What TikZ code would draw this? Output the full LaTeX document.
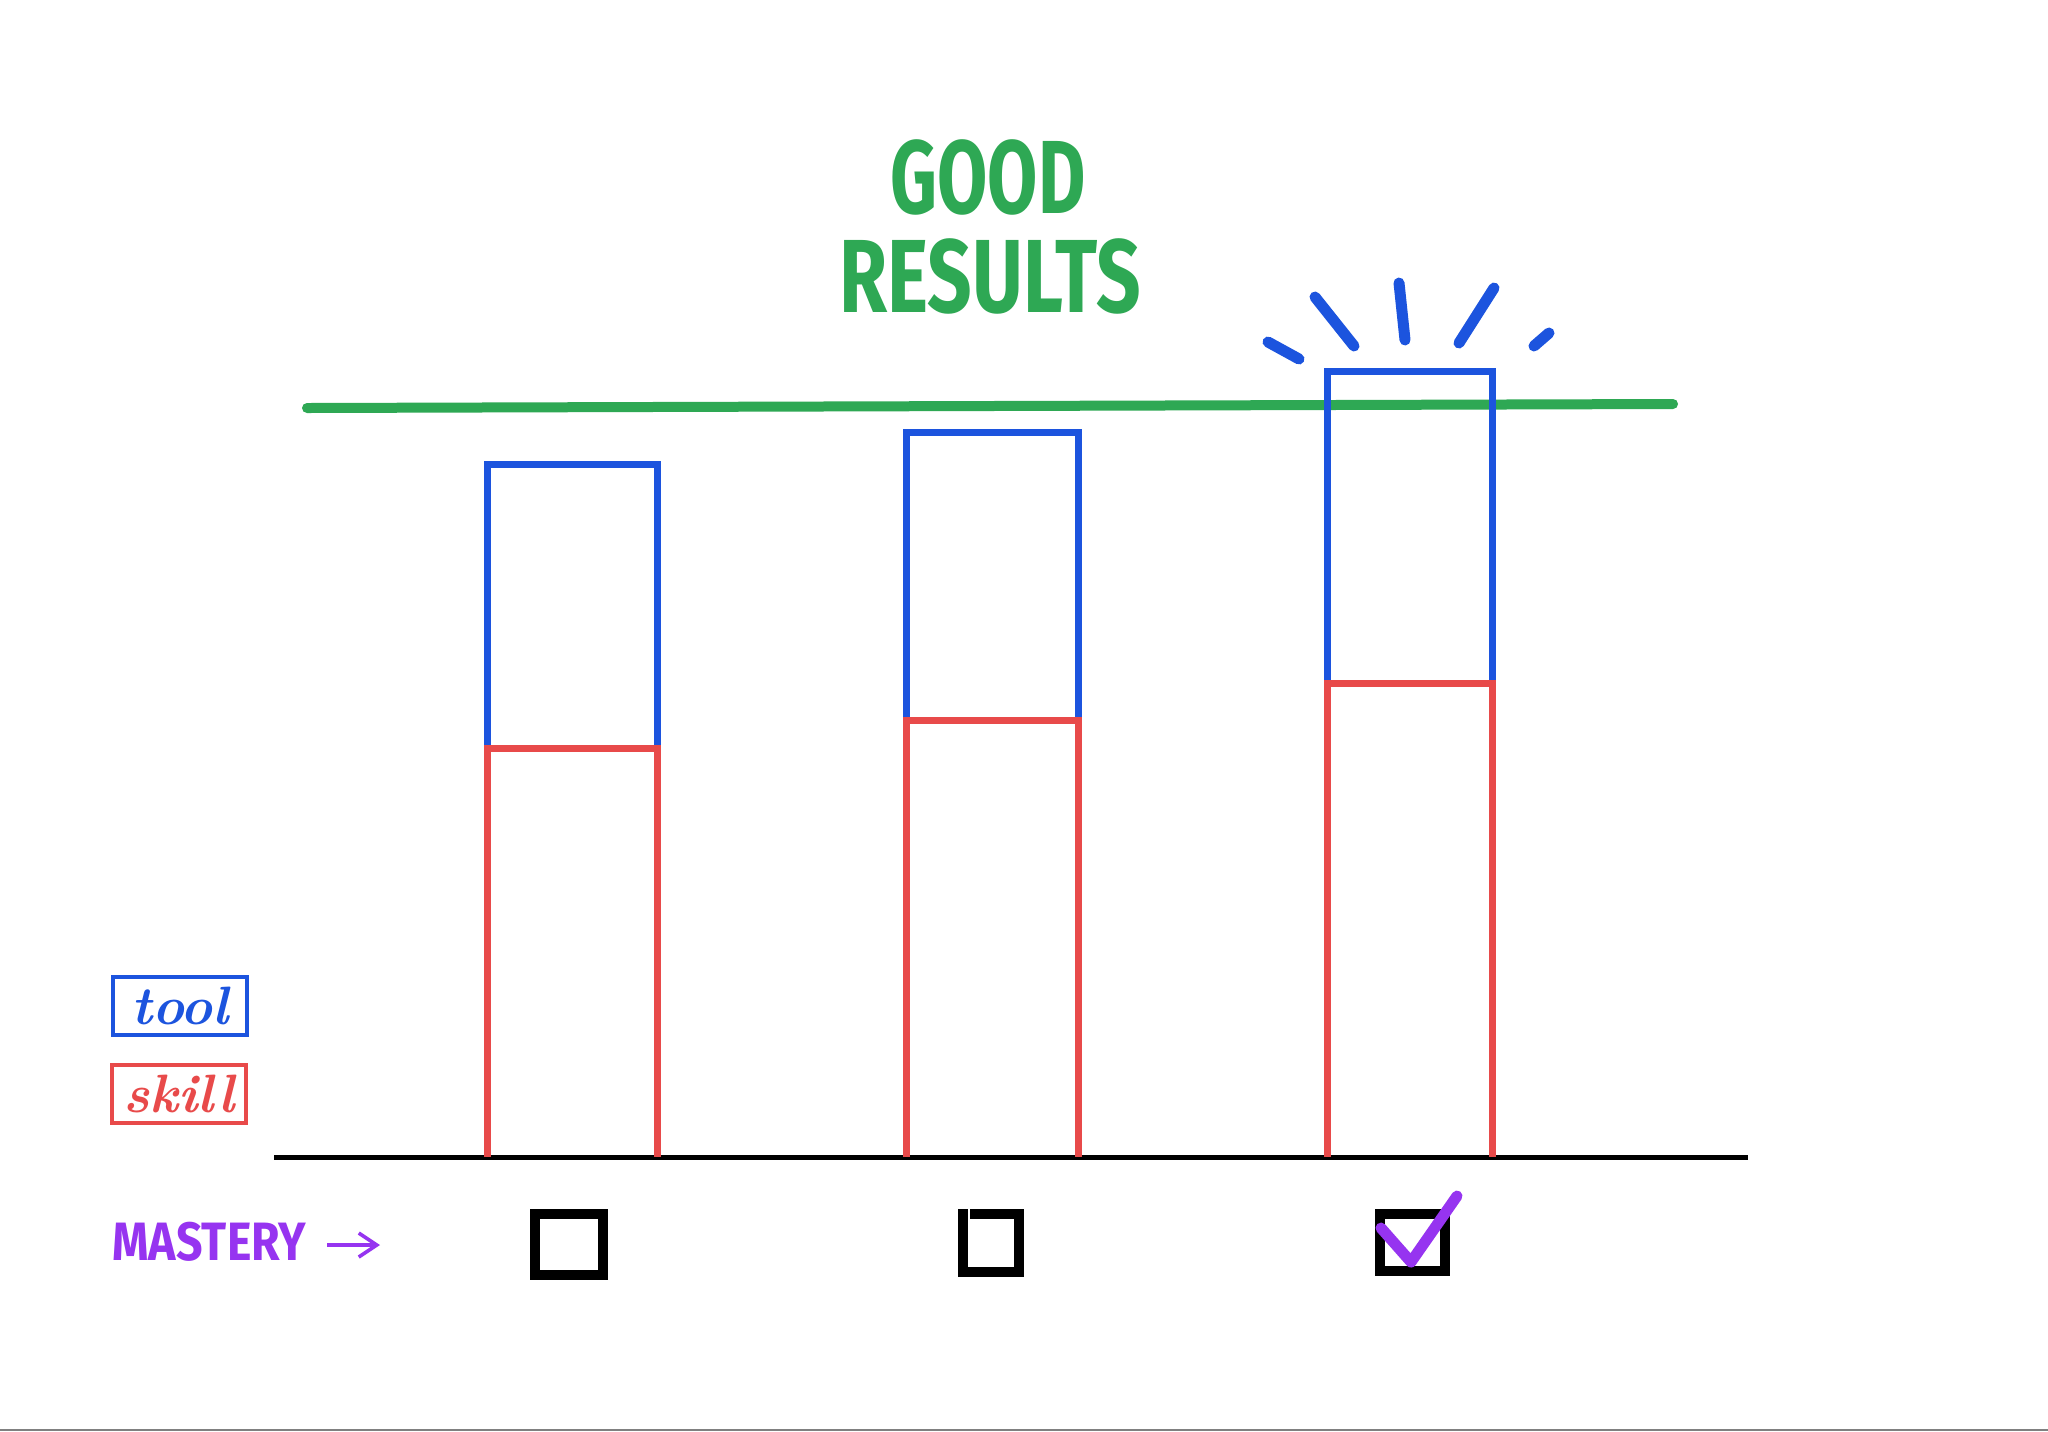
\documentclass[tikz,border=0pt]{standalone}
\usepackage{fontspec}
\newfontfamily\fira{Fira Sans}
\usetikzlibrary{arrows.meta}
\definecolor{gr}{RGB}{46,168,84}
\definecolor{bl}{RGB}{28,84,222}
\definecolor{rd}{RGB}{232,74,74}
\definecolor{pu}{RGB}{150,52,240}
\tikzset{
  toolpart/.style={draw=bl, line width=3.5pt, line join=miter},
  skillpart/.style={draw=rd, line width=3.5pt, line join=miter},
  cbox/.style={draw=black, line width=5pt, line cap=rect},
  spark/.style={draw=bl, line width=5.5pt, line cap=round},
  legend/.style={line width=2pt, inner sep=0pt, minimum width=67pt, minimum height=29pt, font=\fontsize{27}{27}\selectfont\bfseries\itshape},
}
\begin{document}
\begin{tikzpicture}[x=0.5pt,y=-0.5pt]
\useasboundingbox (0,0) rectangle (2048,1431);
\fill[white] (0,0) rectangle (2048,1431);
\draw[gray, line width=1.2pt] (0,1430) -- (2048,1430);

% title
\node[text=gr, font=\fira\bfseries\fontsize{52}{52}\selectfont] (good) at (988,177) {\scalebox{0.7}[1]{GOOD}};
\node[text=gr, font=\fira\bfseries\fontsize{52}{52}\selectfont] (results) at (990,276) {\scalebox{0.75}[1]{RESULTS}};

% green target line
\draw[gr, line width=5pt, line cap=round] (307,408) -- (1673,404);

% baseline
\draw[black, line width=2.5pt] (274,1157) -- (1748,1157);

% bar 1
\draw[toolpart] (487,748) -- (487,464) -- (657,464) -- (657,748);
\draw[skillpart] (487,1157) -- (487,748) -- (657,748) -- (657,1157);
% bar 2
\draw[toolpart] (906,720) -- (906,432) -- (1078,432) -- (1078,720);
\draw[skillpart] (906,1157) -- (906,720) -- (1078,720) -- (1078,1157);
% bar 3
\draw[toolpart] (1327,683) -- (1327,371) -- (1492,371) -- (1492,683);
\draw[skillpart] (1327,1157) -- (1327,683) -- (1492,683) -- (1492,1157);

% sparkles
\draw[spark] (1268,342) -- (1299,359);
\draw[spark] (1315,297) -- (1354,346);
\draw[spark] (1399,283) -- (1405,340);
\draw[spark] (1494,288) -- (1459,343);
\draw[spark] (1549,333) -- (1534,346);

% legend
\node[legend, draw=bl, text=bl] (tool) at (180,1006) {tool};
\node[legend, draw=rd, text=rd] (skill) at (179,1094) {skill};

% mastery
\node[text=pu, font=\fira\bfseries\fontsize{27}{27}\selectfont, inner sep=0pt, anchor=west] (mastery) at (112,1242) {\scalebox{0.86}[1]{MASTERY}};
\coordinate (mtip) at (380,1245);
\draw[pu, line width=1.6pt, -{Straight Barb[length=9pt,width=12pt,line width=1.8pt]}] (327,1245) -- (mtip);

% checkboxes
\draw[cbox] (535,1214) rectangle (603,1275);
\draw[cbox] (975,1214) -- (1019,1214) -- (1019,1272) -- (963,1272) -- (963,1214);
\draw[cbox] (1380,1214) rectangle (1445,1271);
\draw[pu, line width=5.5pt, line cap=round, line join=round] (1381,1228) -- (1411,1262) -- (1457,1196);
\end{tikzpicture}
\end{document}
